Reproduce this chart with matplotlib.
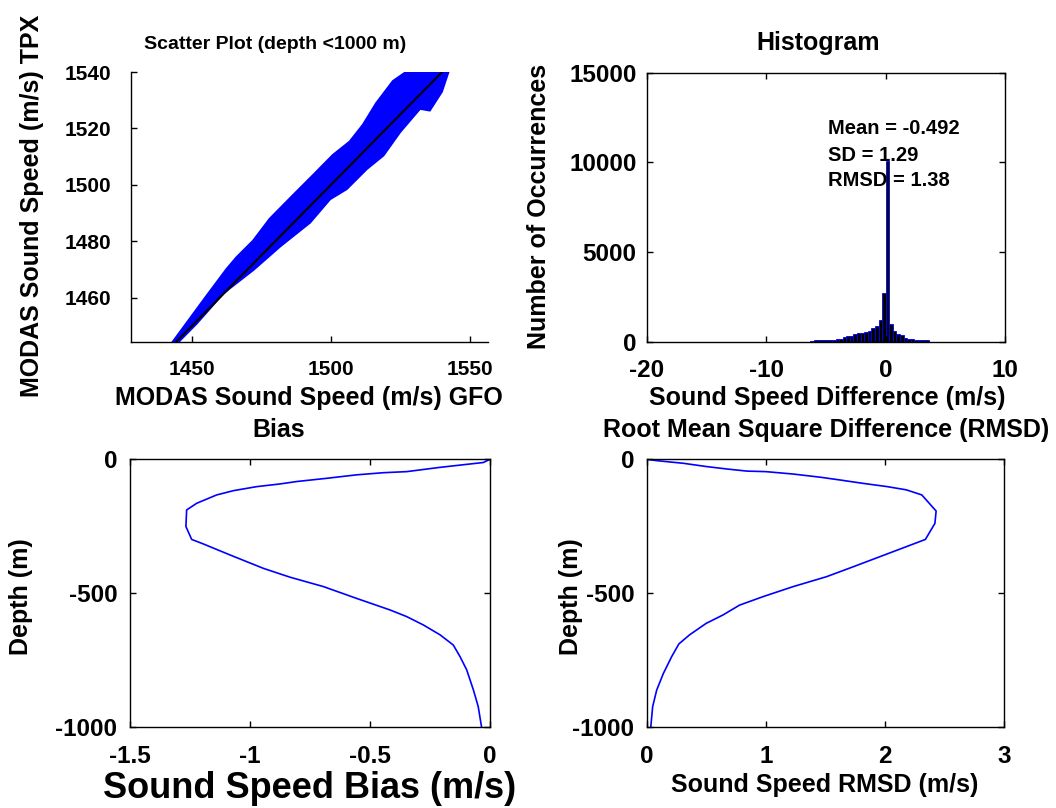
import matplotlib
matplotlib.use("Agg")
import matplotlib.pyplot as plt
from matplotlib import font_manager

names = {f.name for f in font_manager.fontManager.ttflist}
fam = [n for n in ["Liberation Sans", "DejaVu Sans"] if n in names]
plt.rcParams["font.family"] = fam
plt.rcParams["font.weight"] = "bold"
plt.rcParams["axes.unicode_minus"] = False

# ---------------- data ----------------
# scatter cloud envelope (GFO speed, TPX speed)
cloud_upper_x = [1443.3, 1455.3, 1462.5, 1466.1, 1472.1, 1478.1, 1486.4, 1493.6,
                 1500.8, 1506.8, 1511.6, 1516.4, 1522.4, 1528.4, 1541.5]
cloud_upper_y = [1444.4, 1460.5, 1470.0, 1474.2, 1480.1, 1487.9, 1496.2, 1503.3,
                 1510.5, 1515.2, 1521.2, 1528.9, 1536.7, 1540.8, 1541.0]
cloud_lower_x = [1444.5, 1451.7, 1461.3, 1472.1, 1481.7, 1492.4, 1499.6, 1505.6,
                 1512.8, 1518.8, 1524.8, 1532.0, 1535.5, 1539.8, 1542.2]
cloud_lower_y = [1443.8, 1451.0, 1461.7, 1470.0, 1478.3, 1486.7, 1495.0, 1498.6,
                 1505.7, 1510.5, 1518.8, 1527.1, 1526.5, 1533.1, 1540.2]
ref_line = [1443.5, 1540.5]

# histogram of sound speed difference
hist_edges = [-6.3, -6.0, -5.7, -5.4, -5.1, -4.8, -4.5, -4.2, -3.9, -3.6, -3.3,
              -3.0, -2.7, -2.4, -2.1, -1.8, -1.5, -1.2, -0.9, -0.6, -0.3, 0.0,
              0.3, 0.6, 0.9, 1.2, 1.5, 1.8, 2.1, 2.4, 2.7, 3.0, 3.3, 3.6]
hist_counts = [60, 70, 80, 90, 100, 110, 120, 140, 160, 250, 300, 330, 420, 470,
               500, 560, 600, 750, 900, 1200, 2700, 10100, 1000, 600, 450, 350,
               200, 160, 140, 120, 110, 100, 80]
stats_text = ["Mean = -0.492", "SD = 1.29", "RMSD = 1.38"]
stats_y = [11900, 10400, 9000]

# bias profile
bias_val = [0.0, -0.028, -0.208, -0.347, -0.444, -0.556, -0.681, -0.806, -0.875,
            -0.972, -1.069, -1.139, -1.222, -1.264, -1.267, -1.243, -1.194, -1.083,
            -0.944, -0.833, -0.694, -0.556, -0.417, -0.347, -0.278, -0.208, -0.153,
            -0.125, -0.097, -0.069, -0.049, -0.035]
bias_depth = [0, -12, -30, -46, -50, -58, -71, -83, -92, -102, -117, -133, -164,
              -189, -251, -299, -316, -357, -407, -440, -475, -519, -562, -587,
              -618, -655, -693, -736, -786, -861, -923, -1000]

# RMSD profile
rmsd_val = [0.0, 0.084, 0.31, 0.50, 0.67, 0.84, 1.0, 1.23, 1.46, 1.62, 1.82, 2.02,
            2.18, 2.31, 2.43, 2.42, 2.34, 2.18, 1.96, 1.74, 1.51, 1.23, 0.98, 0.78,
            0.64, 0.50, 0.36, 0.27, 0.21, 0.14, 0.084, 0.05, 0.034]
rmsd_depth = [0, -5, -15, -27, -36, -44, -46, -55, -67, -77, -90, -102, -114, -133,
              -193, -239, -299, -326, -363, -400, -438, -475, -512, -544, -581,
              -612, -655, -689, -736, -799, -861, -923, -1000]

# ---------------- figure ----------------
W, H = 1056, 808
fig = plt.figure(figsize=(W / 100, H / 100), dpi=100)
BLUE = (0, 0, 1)
LAB_FS = 18


def ax_px(l, t, r, b):
    return fig.add_axes([l / W, 1 - b / H, (r - l) / W, (b - t) / H])


def ftext(x, y, s, size, rot=0, va="baseline"):
    fig.text(x / W, 1 - y / H, s, ha="center", va=va, rotation=rot,
             fontsize=size, fontweight="bold")


def style(ax, box=True, fs=17.5, xpad=12.5, ypad=7.5):
    ax.tick_params(direction="in", length=4, width=1, labelsize=fs,
                   top=box, right=box)
    ax.tick_params(axis="x", pad=xpad)
    ax.tick_params(axis="y", pad=ypad)
    for sp in ax.spines.values():
        sp.set_linewidth(1.0)
    if not box:
        ax.spines["top"].set_visible(False)
        ax.spines["right"].set_visible(False)


# scatter
ax1 = ax_px(131, 72, 488, 342)
poly_x = cloud_upper_x + cloud_lower_x[::-1]
poly_y = cloud_upper_y + cloud_lower_y[::-1]
ax1.fill(poly_x, poly_y, color=BLUE, lw=2, ec=BLUE)
ax1.plot(ref_line, ref_line, color="black", lw=1.5)
ax1.set_xlim(1428.1, 1556.5)
ax1.set_ylim(1444.3, 1540)
ax1.set_xticks([1450, 1500, 1550])
ax1.set_yticks([1460, 1480, 1500, 1520, 1540])
style(ax1, box=False, fs=15, xpad=13, ypad=14)

# histogram
ax2 = ax_px(647, 72.7, 1005, 341.7)
widths = [hist_edges[i + 1] - hist_edges[i] for i in range(len(hist_counts))]
ax2.bar(hist_edges[:-1], hist_counts, width=widths, align="edge",
        color="black", edgecolor=BLUE, linewidth=0.6)
ax2.set_xlim(-20, 10)
ax2.set_ylim(0, 15000)
ax2.set_xticks([-20, -10, 0, 10])
ax2.set_yticks([0, 5000, 10000, 15000])
style(ax2)
for s, yv in zip(stats_text, stats_y):
    ax2.text(-4.85, yv, s, fontsize=14.5, fontweight="bold", va="center", ha="left")

# bias
ax3 = ax_px(130, 459.3, 490, 727.3)
ax3.plot(bias_val, bias_depth, color=BLUE, lw=1.2)
ax3.set_xlim(-1.5, 0)
ax3.set_ylim(-1000, 0)
ax3.set_xticks([-1.5, -1, -0.5, 0])
ax3.set_xticklabels(["-1.5", "-1", "-0.5", "0"])
ax3.set_yticks([-1000, -500, 0])
style(ax3, ypad=9)

# rmsd
ax4 = ax_px(646.7, 459.3, 1004, 727.3)
ax4.plot(rmsd_val, rmsd_depth, color=BLUE, lw=1.2)
ax4.set_xlim(0, 3)
ax4.set_ylim(-1000, 0)
ax4.set_xticks([0, 1, 2, 3])
ax4.set_yticks([-1000, -500, 0])
style(ax4, ypad=9)

# titles and labels (baseline positions in pixels)
ftext(275, 49, "Scatter Plot (depth <1000 m)", 14)
ftext(818, 50, "Histogram", 18)
ftext(279, 437, "Bias", 18)
ftext(826, 437, "Root Mean Square Difference (RMSD)", 18)
ftext(309, 405, "MODAS Sound Speed (m/s) GFO", LAB_FS)
ftext(827, 405, "Sound Speed Difference (m/s)", LAB_FS)
ftext(310, 798, "Sound Speed Bias (m/s)", 26)
ftext(825, 792, "Sound Speed RMSD (m/s)", LAB_FS)
ftext(32, 206, "MODAS Sound Speed (m/s) TPX", LAB_FS, rot=90, va="center")
ftext(539, 206, "Number of Occurrences", LAB_FS, rot=90, va="center")
ftext(21, 597, "Depth (m)", LAB_FS, rot=90, va="center")
ftext(571, 597, "Depth (m)", LAB_FS, rot=90, va="center")

fig.savefig("out.png", dpi=100)
